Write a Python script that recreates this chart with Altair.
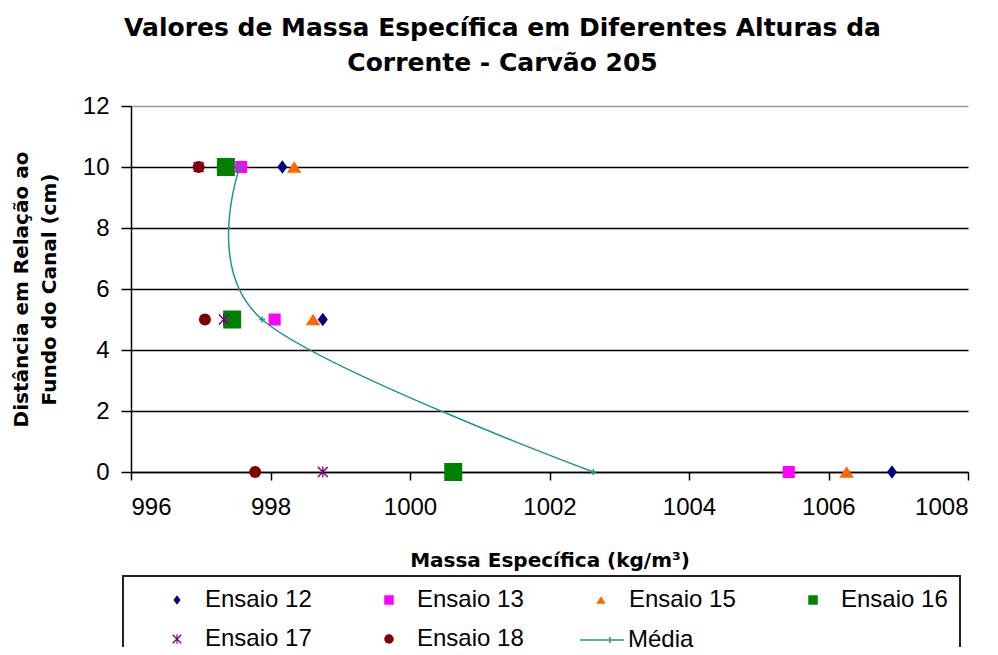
import altair as alt
import pandas as pd

# ---- data ----
series = ["Ensaio 12", "Ensaio 13", "Ensaio 15", "Ensaio 16", "Ensaio 17", "Ensaio 18"]
alturas_12 = [0, 5, 10]
massa_12 = [1006.91, 998.75, 998.17]
alturas_13 = [0, 5, 10]
massa_13 = [1005.43, 998.06, 997.58]
alturas_15 = [0, 5, 10]
massa_15 = [1006.26, 998.61, 998.34]
alturas_16 = [0, 5, 10]
massa_16 = [1000.62, 997.45, 997.36]
alturas_17 = [0, 5, 10]
massa_17 = [998.75, 997.33, 996.97]
alturas_18 = [0, 5, 10]
massa_18 = [997.78, 997.06, 996.97]
alturas_media = [0, 5, 10]
massa_media = [1002.63, 997.88, 997.56]

x_ticks = [996, 998, 1000, 1002, 1004, 1006, 1008]
y_ticks = [0, 2, 4, 6, 8, 10, 12]

colors = {"Ensaio 12": "#000080", "Ensaio 13": "#FF00FF", "Ensaio 15": "#FF6600",
          "Ensaio 16": "#008000", "Ensaio 17": "#800080", "Ensaio 18": "#800000"}
shapes = {
    "Ensaio 12": "M0,-1L0.75,0L0,1L-0.75,0Z",
    "Ensaio 13": "square",
    "Ensaio 15": "M0,-0.8L1,0.8L-1,0.8Z",
    "Ensaio 16": "square",
    "Ensaio 17": "M-1,-0.8L-0.8,-1L1,0.8L0.8,1Z M0.8,-1L1,-0.8L-0.8,1L-1,0.8Z M-0.12,-1H0.12V1H-0.12Z",
    "Ensaio 18": "circle",
}
sizes = {"Ensaio 12": 180, "Ensaio 13": 144, "Ensaio 15": 210,
         "Ensaio 16": 324, "Ensaio 17": 120, "Ensaio 18": 144}
media_color = "#1E9494"

# legend lays entries out column-major; this order puts them row by row as in the reference
legend_order = ["Ensaio 12", "Ensaio 16", "Ensaio 13", "Ensaio 17", "Ensaio 15", "Ensaio 18"]

rows = []
for s, al, ma in [
    ("Ensaio 12", alturas_12, massa_12),
    ("Ensaio 13", alturas_13, massa_13),
    ("Ensaio 15", alturas_15, massa_15),
    ("Ensaio 16", alturas_16, massa_16),
    ("Ensaio 17", alturas_17, massa_17),
    ("Ensaio 18", alturas_18, massa_18),
]:
    for a, m in zip(al, ma):
        rows.append({"serie": s, "tam": s, "altura": a, "massa": m, "ord": series.index(s)})
pts = pd.DataFrame(rows)
med = pd.DataFrame({"altura": alturas_media, "massa": massa_media, "linha": "Média"})

LABEL_FONT = "Liberation Sans"
TITLE_FONT = "DejaVu Sans"

x_enc = alt.X(
    "massa:Q",
    scale=alt.Scale(domain=[996, 1008], nice=False, zero=False),
    axis=alt.Axis(
        values=x_ticks,
        format="d",
        title="Massa Específica (kg/m³)",
        grid=False,
        labelFont=LABEL_FONT,
        labelFontSize=24,
        labelColor="black",
        labelPadding=15,
        tickSize=8,
        tickColor="black",
        tickWidth=1.5,
        domainColor="black",
        domainWidth=1.5,
        titleFont=TITLE_FONT,
        titleFontSize=20,
        titleFontWeight="bold",
        titleColor="black",
        titlePadding=31,
    ),
)
y_enc = alt.Y(
    "altura:Q",
    scale=alt.Scale(domain=[0, 12], nice=False),
    axis=alt.Axis(
        values=y_ticks,
        format="d",
        title=["Distância em Relação ao", "Fundo do Canal (cm)"],
        grid=True,
        gridColor=alt.condition(alt.datum.value == 12, alt.value("#9a9a9a"), alt.value("black")),
        gridWidth=1.5,
        labelFont=LABEL_FONT,
        labelFontSize=24,
        labelColor="black",
        labelPadding=12,
        tickSize=10,
        tickColor="black",
        tickWidth=1.5,
        domainColor="black",
        domainWidth=1.5,
        titleFont=TITLE_FONT,
        titleFontSize=20,
        titleFontWeight="bold",
        titleColor="black",
        titleX=-100,
        titleY=183,
        titleLineHeight=28,
    ),
)

points = alt.Chart(pts).mark_point(filled=True, opacity=1, strokeWidth=0).encode(
    x=x_enc,
    y=y_enc,
    color=alt.Color(
        "serie:N",
        scale=alt.Scale(domain=legend_order, range=[colors[s] for s in legend_order]),
        legend=alt.Legend(
            title=None,
            orient="none",
            legendX=-8,
            legendY=470,
            columns=4,
            gridAlign="all",
            columnPadding=35,
            rowPadding=15,
            padding=12,
            strokeColor="#222222",
            fillColor="white",
            symbolSize=90,
            symbolOffset=30,
            labelOffset=16,
            labelFont=LABEL_FONT,
            labelFontSize=24,
            labelColor="black",
        ),
    ),
    shape=alt.Shape("serie:N", scale=alt.Scale(domain=legend_order, range=[shapes[s] for s in legend_order])),
    size=alt.Size(
        "tam:N",
        scale=alt.Scale(type="ordinal", domain=series, range=[sizes[s] for s in series]),
        legend=None,
    ),
    order=alt.Order("ord:Q"),
)

line = alt.Chart(med).mark_line(interpolate="cardinal", strokeWidth=1.5).encode(
    x="massa:Q",
    y="altura:Q",
    order=alt.Order("altura:Q"),
    stroke=alt.Stroke(
        "linha:N",
        scale=alt.Scale(domain=["Média"], range=[media_color]),
        legend=alt.Legend(
            title=None,
            orient="none",
            legendX=448,
            legendY=511,
            padding=0,
            symbolType="M-1,0H1M0.36,-0.14V0.14",
            symbolSize=1936,
            symbolStrokeWidth=1.5,
            labelOffset=3,
            labelFont=LABEL_FONT,
            labelFontSize=24,
            labelColor="black",
        ),
    ),
)

marks = alt.Chart(med).mark_point(
    shape="M-1,0H1M0,-1V1", filled=False, size=36, strokeWidth=1.5, color=media_color, opacity=1
).encode(x="massa:Q", y="altura:Q")

chart = (
    alt.layer(points, line, marks)
    .properties(
        width=837,
        height=366,
        autosize=alt.AutoSizeParams(type="none"),
        padding={"left": 123, "top": 98, "right": 22, "bottom": 175},
        title=alt.TitleParams(
            text=["Valores de Massa Específica em Diferentes Alturas da", "Corrente - Carvão 205"],
            font=TITLE_FONT,
            fontSize=25,
            fontWeight="bold",
            color="black",
            anchor="middle",
            frame="group",
            dx=-47,
            offset=18,
            lineHeight=35,
        ),
        background="white",
    )
    .configure_view(stroke=None)
    .configure_legend(strokeWidth=2)
)

chart.save("out.html", embed_options={"renderer": "svg", "actions": False})
